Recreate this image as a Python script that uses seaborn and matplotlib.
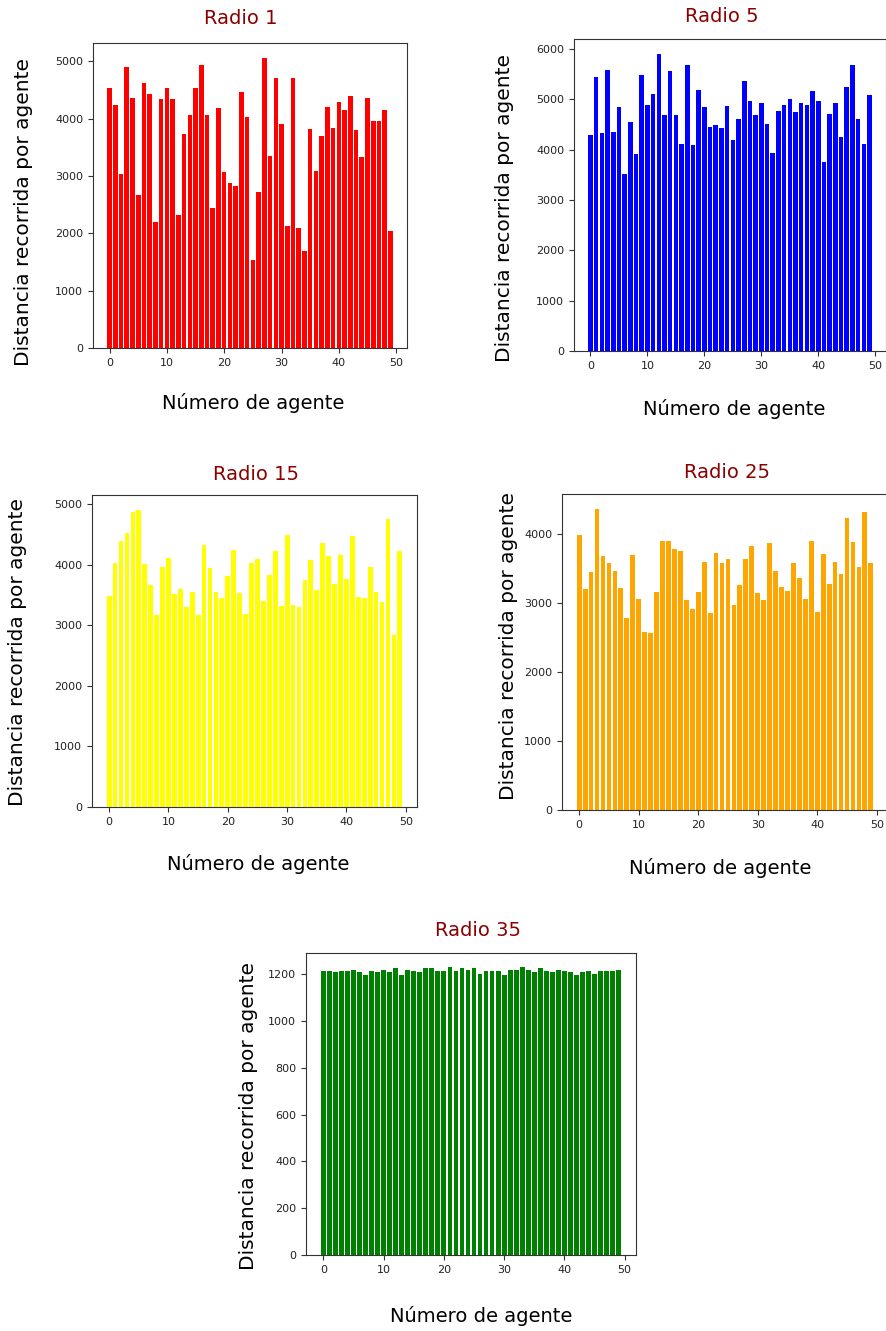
import matplotlib
matplotlib.use("Agg")
import matplotlib.pyplot as plt
import seaborn as sns
import pandas as pd
import numpy as np

# Distance travelled by each of the 50 agents, one series per sensing radius
agentes = list(range(50))

radio_1 = [4533, 4243, 3043, 4893, 4354, 2667, 4626, 4423, 2197, 4336,
           4533, 4336, 2313, 3739, 4070, 4533, 4933, 4070, 2446, 4180,
           3067, 2870, 2823, 4470, 4023, 1536, 2713, 5067, 3357, 4713,
           3913, 2133, 4713, 2087, 1687, 3826, 3090, 3693, 4203, 3843,
           4290, 4157, 4400, 3803, 3333, 4354, 3954, 3954, 4157, 2046]

radio_5 = [4299, 5443, 4325, 5595, 4352, 4848, 3525, 4557, 3915, 5489,
           4894, 5106, 5906, 4689, 5575, 4689, 4120, 5675, 4094, 5185,
           4848, 4458, 4484, 4431, 4874, 4200, 4610, 5364, 4974, 4689,
           4921, 4511, 3942, 4769, 4894, 5000, 4742, 4921, 4894, 5159,
           4974, 3757, 4716, 4921, 4253, 5238, 5694, 4610, 4120, 5079]

radio_15 = [3487, 4026, 4389, 4521, 4868, 4906, 4004, 3658, 3163, 3955,
            4109, 3509, 3592, 3295, 3553, 3163, 4329, 3938, 3553, 3443,
            3812, 4241, 3531, 3185, 4026, 4087, 3399, 3828, 4219, 3317,
            4499, 3333, 3295, 3746, 4070, 3575, 4351, 4136, 3680, 4153,
            3768, 4477, 3465, 3443, 3960, 3553, 3377, 4758, 2838, 4219]

radio_25 = [3985, 3201, 3448, 4368, 3680, 3584, 3472, 3220, 2780, 3695,
            3065, 2586, 2567, 3162, 3908, 3908, 3792, 3753, 3046, 2915,
            3162, 3603, 2857, 3734, 3584, 3642, 2973, 3259, 3642, 3831,
            3143, 3046, 3869, 3472, 3240, 3182, 3584, 3370, 3065, 3908,
            2877, 3719, 3278, 3603, 3429, 4232, 3889, 3525, 4329, 3584]

radio_35 = [1214, 1214, 1209, 1214, 1214, 1220, 1209, 1199, 1214, 1209,
            1220, 1209, 1226, 1199, 1220, 1214, 1209, 1226, 1226, 1214,
            1214, 1230, 1214, 1226, 1220, 1226, 1203, 1214, 1214, 1214,
            1199, 1220, 1220, 1230, 1220, 1209, 1226, 1214, 1209, 1220,
            1214, 1209, 1199, 1209, 1214, 1203, 1214, 1214, 1214, 1220]

titulos = ["Radio 1", "Radio 5", "Radio 15", "Radio 25", "Radio 35"]
colores = ["red", "blue", "yellow", "orange", "green"]
series = [radio_1, radio_5, radio_15, radio_25, radio_35]

W, H = 886, 1331
fig = plt.figure(figsize=(W / 100, H / 100), dpi=100)

# panel boxes in pixels: left, top, right, bottom
cajas = [(93, 43, 407, 348),
         (574, 39, 886, 351),
         (92, 495, 417, 807),
         (562, 494, 888, 810),
         (306, 953, 636, 1255)]
# text anchors in pixels: title (x, y), xlabel (x, y), ylabel (x, y)
pos_titulo = [(241, 19), (722, 17), (256, 474), (727, 473), (478, 930)]
pos_xlabel = [(253, 403), (734, 409), (258, 864), (720, 868), (481, 1316)]
pos_ylabel = [(24, 212), (505, 208), (18, 652), (508, 646), (248, 1116)]

def fx(px):
    return px / W

def fy(py):
    return 1 - py / H

for i, (vals, titulo, color) in enumerate(zip(series, titulos, colores)):
    l, t, r, b = cajas[i]
    ax = fig.add_axes([fx(l), fy(b), (r - l) / W, (b - t) / H])
    df = pd.DataFrame({"agente": agentes, "distancia": vals})
    sns.barplot(data=df, x="agente", y="distancia", ax=ax, native_scale=True,
                color=color, saturation=1, errorbar=None, width=0.8,
                linewidth=0, edgecolor="none")
    ax.set_xlim(-0.4 - 0.05 * 49.8, 49.4 + 0.05 * 49.8)
    ax.set_ylim(0, max(vals) * 1.05)
    ax.set_xticks([0, 10, 20, 30, 40, 50])
    ax.tick_params(labelsize=8, colors="#333333", labelcolor="#222222")
    for s in ax.spines.values():
        s.set_color("#333333")

    ax.set_xlabel("Número de agente", fontsize=14)
    ax.set_ylabel("Distancia recorrida por agente", fontsize=14.5)
    ax.xaxis.set_label_coords(fx(pos_xlabel[i][0]), fy(pos_xlabel[i][1]),
                              transform=fig.transFigure)
    ax.xaxis.label.set_va("center")
    ax.yaxis.set_label_coords(fx(pos_ylabel[i][0]), fy(pos_ylabel[i][1]),
                              transform=fig.transFigure)
    ax.yaxis.label.set_va("center")
    fig.text(fx(pos_titulo[i][0]), fy(pos_titulo[i][1]), titulo,
             fontsize=14, color="#8B0000", ha="center", va="center")

fig.savefig("out.png", dpi=100)
